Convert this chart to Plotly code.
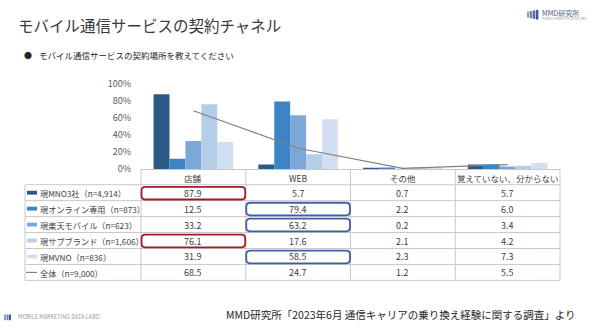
import plotly.graph_objects as go

# ---- data ----
categories = ["店舗", "WEB", "その他", "覚えていない、分からない"]
series_names = [
    "現MNO3社（n=4,914）",
    "現オンライン専用（n=873）",
    "現楽天モバイル（n=623）",
    "現サブブランド（n=1,606）",
    "現MVNO（n=836）",
]
mno3 = [87.9, 5.7, 0.7, 5.7]
online = [12.5, 79.4, 2.2, 6.0]
rakuten = [33.2, 63.2, 0.2, 3.4]
subbrand = [76.1, 17.6, 2.1, 4.2]
mvno = [31.9, 58.5, 2.3, 7.3]
total_name = "全体（n=9,000）"
total = [68.5, 24.7, 1.2, 5.5]
y_ticks = [0, 20, 40, 60, 80, 100]
y_tick_labels = ["0%", "20%", "40%", "60%", "80%", "100%"]

# cells outlined in the table: (row, column, colour)
highlights = [(0, 0, "#9E1C2B"), (3, 0, "#9E1C2B"),
              (1, 1, "#3F5FA6"), (2, 1, "#3F5FA6"), (4, 1, "#3F5FA6")]

series_values = [mno3, online, rakuten, subbrand, mvno]
series_colors = ["#2C5A86", "#3D84C5", "#7CA8D8", "#B4CDE9", "#D2DFF1"]
line_color = "#808080"

FONT = "Noto Sans CJK JP"
W, H = 590, 330


def px(x):
    return x / W


def py(y):
    return 1 - y / H


plot_l, plot_r, plot_t, plot_b = 141, 560, 80, 169
col_w = (plot_r - plot_l) / len(categories)
header_bottom = 185
row_h = 16.6
table_l = 25
n_rows = len(series_names) + 1
table_b = header_bottom + row_h * n_rows

fig = go.Figure()
for name, vals, col in zip(series_names, series_values, series_colors):
    fig.add_trace(go.Bar(x=categories, y=vals, name=name,
                         marker=dict(color=col, line=dict(width=0))))
fig.add_trace(go.Scatter(x=categories, y=total, name=total_name, mode="lines",
                         line=dict(color=line_color, width=1.2)))

shapes = []
grid = "#C8C8C8"
# horizontal table rules
for i in range(n_rows + 1):
    y = header_bottom + i * row_h
    shapes.append(dict(type="line", xref="paper", yref="paper",
                       x0=px(table_l), x1=px(plot_r), y0=py(y), y1=py(y),
                       line=dict(color=grid, width=1)))
# vertical table rules
for j in range(len(categories) + 1):
    x = plot_l + j * col_w
    shapes.append(dict(type="line", xref="paper", yref="paper",
                       x0=px(x), x1=px(x), y0=py(plot_b), y1=py(table_b),
                       line=dict(color=grid, width=1)))
shapes.append(dict(type="line", xref="paper", yref="paper",
                   x0=px(table_l), x1=px(table_l), y0=py(header_bottom), y1=py(table_b),
                   line=dict(color=grid, width=1)))

# legend keys in the first column
for i, col in enumerate(series_colors):
    yc = header_bottom + (i + 0.5) * row_h
    shapes.append(dict(type="rect", xref="paper", yref="paper",
                       x0=px(27), x1=px(37), y0=py(yc - 2), y1=py(yc + 2),
                       fillcolor=col, line=dict(width=0)))
yc = header_bottom + (len(series_names) + 0.5) * row_h
shapes.append(dict(type="line", xref="paper", yref="paper",
                   x0=px(26), x1=px(37), y0=py(yc), y1=py(yc),
                   line=dict(color=line_color, width=1.2)))


def rounded_rect(x0, y0, x1, y1, r):
    pts = [
        f"M {px(x0 + r)},{py(y0)}",
        f"L {px(x1 - r)},{py(y0)}",
        f"Q {px(x1)},{py(y0)} {px(x1)},{py(y0 + r)}",
        f"L {px(x1)},{py(y1 - r)}",
        f"Q {px(x1)},{py(y1)} {px(x1 - r)},{py(y1)}",
        f"L {px(x0 + r)},{py(y1)}",
        f"Q {px(x0)},{py(y1)} {px(x0)},{py(y1 - r)}",
        f"L {px(x0)},{py(y0 + r)}",
        f"Q {px(x0)},{py(y0)} {px(x0 + r)},{py(y0)}",
        "Z",
    ]
    return " ".join(pts)


for r, c, col in highlights:
    x0 = plot_l + c * col_w + 0.5
    x1 = plot_l + (c + 1) * col_w - 0.5
    y0 = header_bottom + r * row_h + 2.2
    y1 = header_bottom + (r + 1) * row_h - 1.2
    shapes.append(dict(type="path", xref="paper", yref="paper",
                       path=rounded_rect(x0, y0, x1, y1, 4),
                       line=dict(color=col, width=1.8)))

# small logo mark, top right
for k, (xs, c) in enumerate(zip([527, 530, 533, 536], ["#8FA0C4", "#6F84B4", "#566DA3", "#41598F"])):
    shapes.append(dict(type="rect", xref="paper", yref="paper",
                       x0=px(xs), x1=px(xs + 2.4), y0=py(3 + (3 - k) * 0.6), y1=py(13 - (3 - k) * 0.6),
                       fillcolor=c, line=dict(width=0)))
for k, (xs, c) in enumerate(zip([4, 6.5, 9], ["#8FA0C4", "#6F84B4", "#41598F"])):
    shapes.append(dict(type="rect", xref="paper", yref="paper",
                       x0=px(xs), x1=px(xs + 2), y0=py(320), y1=py(326),
                       fillcolor=c, line=dict(width=0)))

ann = []
txt = "#404040"
# header cells
for j, cat in enumerate(categories):
    ann.append(dict(x=px(plot_l + (j + 0.5) * col_w), y=py((plot_b + header_bottom) / 2 + 0.5),
                    text=cat, showarrow=False, xref="paper", yref="paper",
                    xanchor="center", yanchor="middle", font=dict(size=8.5, color=txt, family=FONT)))
# body rows
rows = list(zip(series_names, series_values)) + [(total_name, total)]
for i, (name, vals) in enumerate(rows):
    yc = header_bottom + (i + 0.5) * row_h + 0.5
    ann.append(dict(x=px(38), y=py(yc), text=name, showarrow=False, xref="paper", yref="paper",
                    xanchor="left", yanchor="middle", font=dict(size=8.2, color=txt, family=FONT)))
    for j, v in enumerate(vals):
        ann.append(dict(x=px(plot_l + (j + 0.5) * col_w), y=py(yc), text=f"{v:.1f}",
                        showarrow=False, xref="paper", yref="paper",
                        xanchor="center", yanchor="middle", font=dict(size=9, color=txt, family=FONT)))

ann += [
    dict(x=px(16), y=py(19), text="モバイル通信サービスの契約チャネル", showarrow=False,
         xref="paper", yref="paper", xanchor="left", yanchor="middle",
         font=dict(size=15.5, color="#3A3A3A", family=FONT)),
    dict(x=px(22), y=py(50), text="●", showarrow=False, xref="paper", yref="paper",
         xanchor="left", yanchor="middle", font=dict(size=8, color="#262626", family=FONT)),
    dict(x=px(37), y=py(50), text="モバイル通信サービスの契約場所を教えてください", showarrow=False,
         xref="paper", yref="paper", xanchor="left", yanchor="middle",
         font=dict(size=8.5, color="#262626", family=FONT)),
    dict(x=px(578), y=py(320), text="MMD研究所「2023年6月 通信キャリアの乗り換え経験に関する調査」より",
         showarrow=False, xref="paper", yref="paper", xanchor="right", yanchor="middle",
         font=dict(size=10.5, color="#262626", family=FONT)),
    dict(x=px(16), y=py(323), text="MOBILE MARKETING DATA LABO.", showarrow=False,
         xref="paper", yref="paper", xanchor="left", yanchor="middle",
         font=dict(size=5.5, color="#9A9A9A", family=FONT)),
    dict(x=px(540), y=py(6), text="MMD研究所", showarrow=False, xref="paper", yref="paper",
         xanchor="left", yanchor="middle", font=dict(size=7, color="#4A5A85", family=FONT)),
    dict(x=px(540), y=py(12), text="MOBILE MARKETING DATA LABO.", showarrow=False,
         xref="paper", yref="paper", xanchor="left", yanchor="middle",
         font=dict(size=3, color="#9A9A9A", family=FONT)),
]

fig.update_layout(
    width=W, height=H,
    margin=dict(l=0, r=0, t=0, b=0, pad=0),
    paper_bgcolor="white", plot_bgcolor="white",
    barmode="group", bargap=0.24, bargroupgap=0,
    showlegend=False,
    font=dict(family=FONT, color=txt),
    xaxis=dict(domain=[px(plot_l), px(plot_r)], showticklabels=False, ticks="",
               showgrid=False, zeroline=False, showline=True, linecolor=grid, linewidth=1,
               fixedrange=True),
    yaxis=dict(domain=[py(plot_b), py(plot_t)], range=[0, 100], tickvals=y_ticks,
               ticktext=y_tick_labels, showgrid=False, zeroline=False, showline=False,
               ticks="", ticklabelstandoff=9,
               tickfont=dict(size=9, color="#595959", family=FONT), fixedrange=True),
    shapes=shapes,
    annotations=ann,
)

fig.write_html("out.html")
